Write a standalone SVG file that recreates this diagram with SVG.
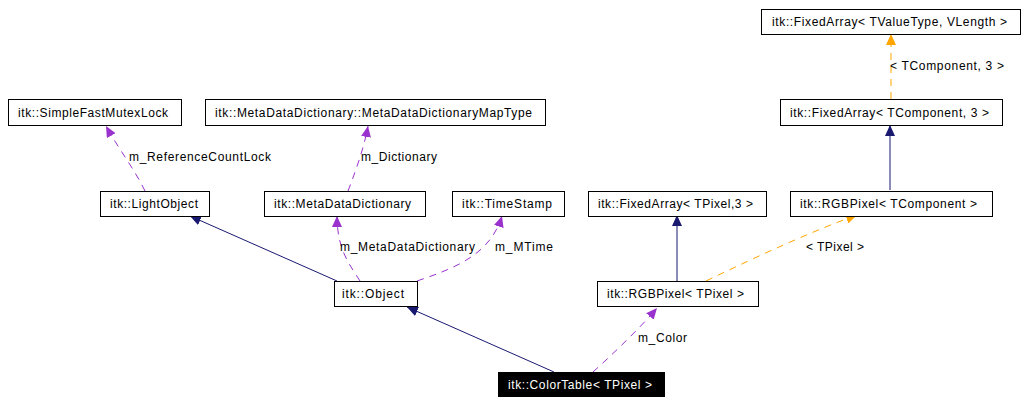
<svg xmlns="http://www.w3.org/2000/svg" width="1027" height="404" viewBox="0 0 1027 404">
<style>
.box{fill:#fff;stroke:#000;stroke-width:1}
.t{font-family:"Liberation Sans",Arial,sans-serif;font-size:12px;fill:#000;text-anchor:middle}
.w{fill:#fff}
.nv{fill:none;stroke:#191970;stroke-width:1}
.pu{fill:none;stroke:#9a32cd;stroke-width:1;stroke-dasharray:7,6}
.or{fill:none;stroke:#ffa500;stroke-width:1;stroke-dasharray:7,6}
</style>
<defs>
<marker id="aN" markerUnits="userSpaceOnUse" markerWidth="12" markerHeight="10" refX="11" refY="5" orient="auto"><path d="M0,0 L11,5 L0,10 Z" fill="#191970"/></marker>
<marker id="aP" markerUnits="userSpaceOnUse" markerWidth="12" markerHeight="10" refX="11" refY="5" orient="auto"><path d="M0,0 L11,5 L0,10 Z" fill="#9a32cd"/></marker>
<marker id="aO" markerUnits="userSpaceOnUse" markerWidth="12" markerHeight="10" refX="11" refY="5" orient="auto"><path d="M0,0 L11,5 L0,10 Z" fill="#ffa500"/></marker>
</defs>
<rect width="1027" height="404" fill="#fff"/>
<g id="connectors">
<path class="pu" d="M145,191 C135,170 118,148 106,126" marker-end="url(#aP)"/>
<path class="pu" d="M348,191 C356,170 364,148 368,126" marker-end="url(#aP)"/>
<path class="nv" d="M337,281 L190,216" marker-end="url(#aN)"/>
<path class="pu" d="M360,281 C350,265 337,250 337,216" marker-end="url(#aP)"/>
<path class="pu" d="M417,281 C455,268 490,255 502,216" marker-end="url(#aP)"/>
<path class="nv" d="M554,372 L407,307" marker-end="url(#aN)"/>
<path class="pu" d="M593,372 C615,352 640,328 657,308" marker-end="url(#aP)"/>
<path class="nv" d="M677,282 L677,215" marker-end="url(#aN)"/>
<path class="or" d="M706,281 C760,255 815,230 857,215" marker-end="url(#aO)"/>
<path class="nv" d="M890,190 L890,125" marker-end="url(#aN)"/>
<path class="or" d="M891,99 L891,34" marker-end="url(#aO)"/>
<text class="t" x="200" y="161" textLength="142" lengthAdjust="spacing">m_ReferenceCountLock</text>
<text class="t" x="399" y="161" textLength="76" lengthAdjust="spacing">m_Dictionary</text>
<text class="t" x="407.5" y="251" textLength="135" lengthAdjust="spacing">m_MetaDataDictionary</text>
<text class="t" x="524" y="251" textLength="58" lengthAdjust="spacing">m_MTime</text>
<text class="t" x="947" y="70" textLength="114" lengthAdjust="spacing">&lt; TComponent, 3 &gt;</text>
<text class="t" x="835" y="251" textLength="58" lengthAdjust="spacing">&lt; TPixel &gt;</text>
<text class="t" x="662.5" y="342" textLength="49" lengthAdjust="spacing">m_Color</text>
</g>
<g id="SimpleFastMutexLock"><rect class="box" x="8.5" y="99.5" width="173" height="26"/><text class="t" x="93" y="117" textLength="150" lengthAdjust="spacing">itk::SimpleFastMutexLock</text></g>
<g id="MetaDataDictionaryMapType"><rect class="box" x="205.5" y="99.5" width="340" height="26"/><text class="t" x="373.5" y="117" textLength="317" lengthAdjust="spacing">itk::MetaDataDictionary::MetaDataDictionaryMapType</text></g>
<g id="FixedArrayVLength"><rect class="box" x="761.5" y="9.5" width="259" height="25"/><text class="t" x="889.5" y="26" textLength="235" lengthAdjust="spacing">itk::FixedArray&lt; TValueType, VLength &gt;</text></g>
<g id="FixedArrayTComponent"><rect class="box" x="780.5" y="99.5" width="222" height="26"/><text class="t" x="889.5" y="117" textLength="199" lengthAdjust="spacing">itk::FixedArray&lt; TComponent, 3 &gt;</text></g>
<g id="LightObject"><rect class="box" x="100.5" y="191.5" width="109" height="25"/><text class="t" x="154" y="208" textLength="88" lengthAdjust="spacing">itk::LightObject</text></g>
<g id="MetaDataDictionary"><rect class="box" x="264.5" y="191.5" width="161" height="25"/><text class="t" x="342.5" y="208" textLength="137" lengthAdjust="spacing">itk::MetaDataDictionary</text></g>
<g id="TimeStamp"><rect class="box" x="452.5" y="191.5" width="112" height="25"/><text class="t" x="507" y="208" textLength="90" lengthAdjust="spacing">itk::TimeStamp</text></g>
<g id="FixedArrayTPixel"><rect class="box" x="588.5" y="191.5" width="178" height="25"/><text class="t" x="675.5" y="208" textLength="155" lengthAdjust="spacing">itk::FixedArray&lt; TPixel,3 &gt;</text></g>
<g id="RGBPixelTComponent"><rect class="box" x="790.5" y="191.5" width="202" height="25"/><text class="t" x="888.5" y="208" textLength="177" lengthAdjust="spacing">itk::RGBPixel&lt; TComponent &gt;</text></g>
<g id="Object"><rect class="box" x="334.5" y="281.5" width="83" height="25"/><text class="t" x="373" y="298" textLength="62" lengthAdjust="spacing">itk::Object</text></g>
<g id="RGBPixelTPixel"><rect class="box" x="597.5" y="281.5" width="161" height="25"/><text class="t" x="675.5" y="298" textLength="137" lengthAdjust="spacing">itk::RGBPixel&lt; TPixel &gt;</text></g>
<g id="ColorTable"><rect x="498" y="372" width="167" height="25" fill="#000"/><text class="t w" x="580" y="389" textLength="144" lengthAdjust="spacing">itk::ColorTable&lt; TPixel &gt;</text></g>
</svg>
